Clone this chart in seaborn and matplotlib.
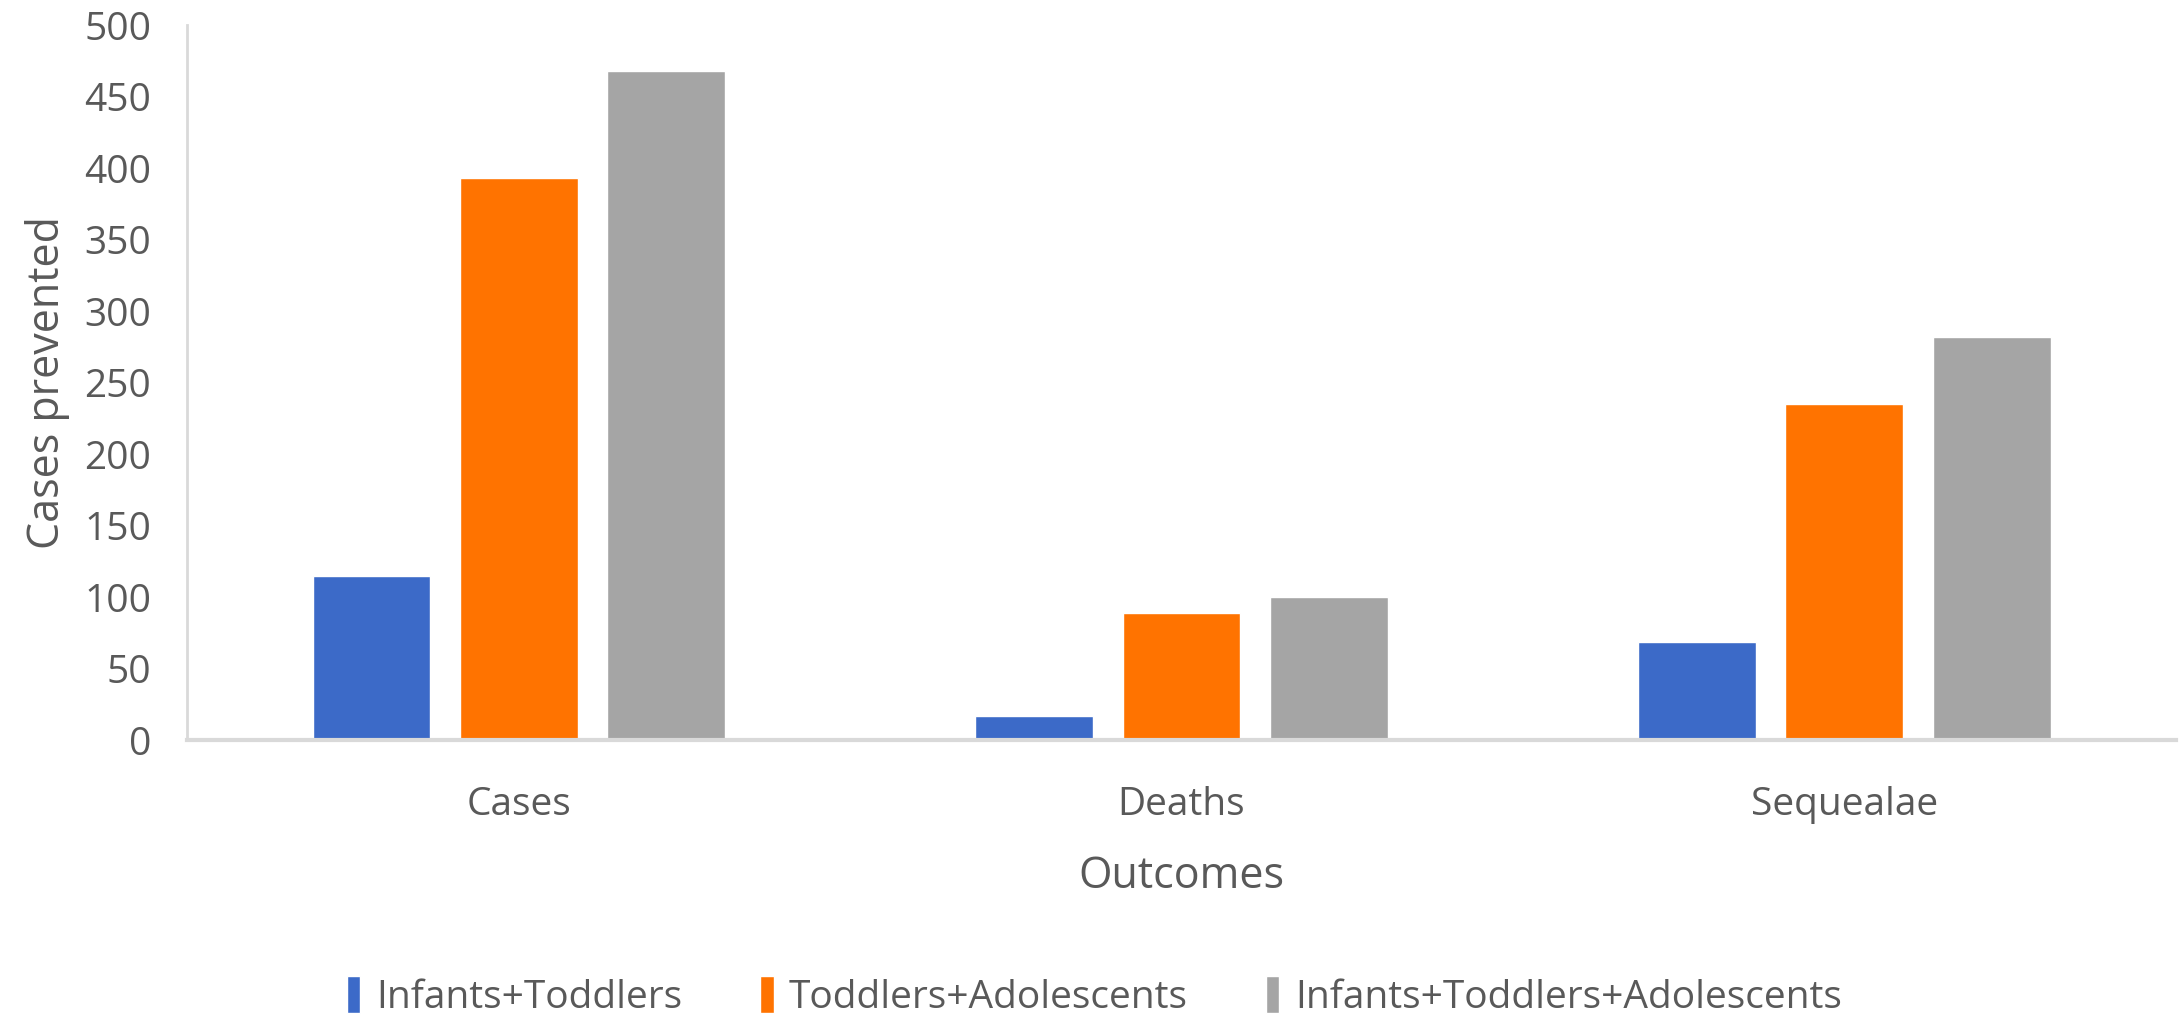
import matplotlib
matplotlib.use("Agg")
import matplotlib.pyplot as plt
import seaborn as sns
import pandas as pd

# Outcomes and the vaccination strategies compared
outcomes = ["Cases", "Deaths", "Sequealae"]
groups = ["Infants+Toddlers", "Toddlers+Adolescents", "Infants+Toddlers+Adolescents"]

# Cases prevented per outcome, one list per strategy
infants_toddlers = [115, 17, 69]
toddlers_adolescents = [393, 89, 235]
infants_toddlers_adolescents = [468, 100, 282]

y_ticks = [0, 50, 100, 150, 200, 250, 300, 350, 400, 450, 500]

colors = ["#3C6AC8", "#FF7300", "#A5A5A5"]
text_color = "#595959"

rows = []
for g, vals in zip(groups, [infants_toddlers, toddlers_adolescents, infants_toddlers_adolescents]):
    for o, v in zip(outcomes, vals):
        rows.append({"Outcome": o, "Group": g, "Value": v})
df = pd.DataFrame(rows)

sns.set_theme(style="white")
plt.rcParams["font.family"] = ["Open Sans", "DejaVu Sans"]

fig = plt.figure(figsize=(21.8, 10.21), dpi=100)
ax = fig.add_axes([0.086, 0.275, 0.912, 0.7005])

sns.barplot(data=df, x="Outcome", y="Value", hue="Group", order=outcomes,
            hue_order=groups, palette=colors, width=0.667, gap=0.2,
            saturation=1, errorbar=None, ax=ax)

ax.set_xlim(-0.5, 2.5)
ax.set_ylim(0, 500)
ax.set_yticks(y_ticks)
ax.tick_params(axis="both", length=0, labelsize=28, labelcolor=text_color)
ax.tick_params(axis="y", pad=26)
ax.tick_params(axis="x", pad=33)

ax.set_xlabel("Outcomes", fontsize=31, color=text_color, labelpad=22)
ax.set_ylabel("Cases prevented", fontsize=31, color=text_color, labelpad=10)

for side in ["top", "right"]:
    ax.spines[side].set_visible(False)
ax.spines["left"].set_color("#D9D9D9")
ax.spines["left"].set_linewidth(2)
ax.spines["bottom"].set_color("#D9D9D9")
ax.spines["bottom"].set_linewidth(3)

handles, labels = ax.get_legend_handles_labels()
ax.get_legend().remove()
leg = fig.legend(handles, labels, loc="center", bbox_to_anchor=(0.502, 0.024),
                 ncol=3, frameon=False, fontsize=28, handlelength=0.35,
                 handleheight=1.1, handletextpad=0.4, columnspacing=2.0)
for t in leg.get_texts():
    t.set_color(text_color)

fig.savefig("out.png", dpi=100, facecolor="white")
